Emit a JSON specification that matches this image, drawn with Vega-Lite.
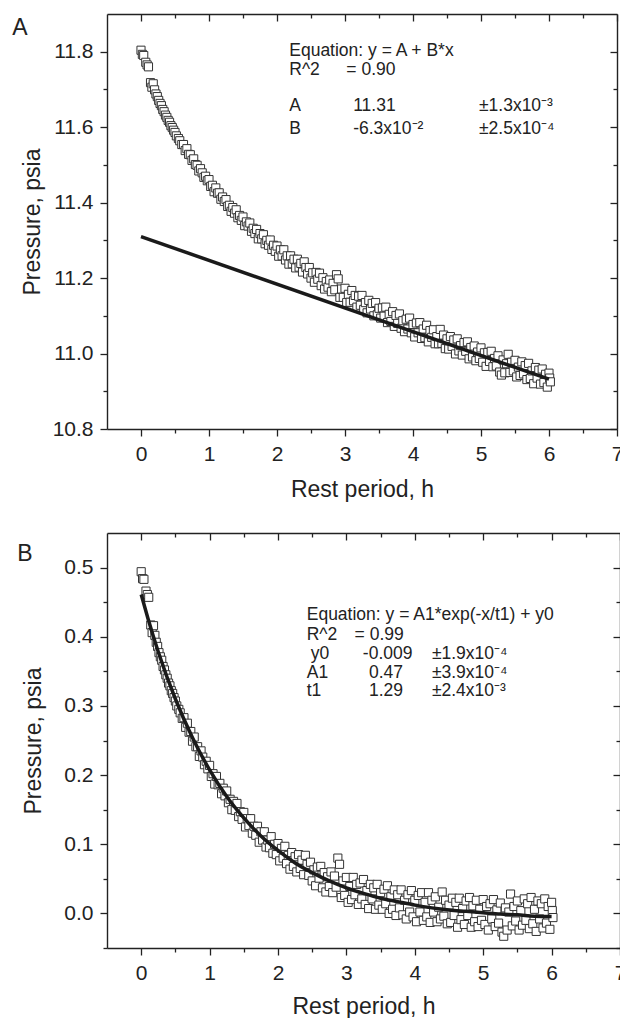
{
  "$schema": "https://vega.github.io/schema/vega-lite/v6.json",
  "padding": {"left": 12, "top": 13, "right": 0, "bottom": 0},
  "background": "white",
  "columns": 1,
  "align": "none",
  "spacing": 31,
  "config": {
    "view": {"stroke": null},
    "axis": {"domainColor": "#222", "domainWidth": 1.4, "tickColor": "#222", "tickWidth": 1.3, "labelFont": "Liberation Sans", "labelFontSize": 21, "labelColor": "#222", "titleFont": "Liberation Sans", "titleFontSize": 23, "titleFontWeight": "normal", "titleColor": "#222", "grid": false, "labelPadding": 7, "titlePadding": 8, "labelOverlap": false, "labelFlush": false}
  },
  "datasets": {
    "pts": [
      {"t":0,"a":11.804,"b":0.494},{"t":0.02,"a":11.793,"b":0.484},{"t":0.04,"a":11.790,"b":0.483},{"t":0.07,"a":11.772,"b":0.466},{"t":0.09,"a":11.765,"b":0.461},{"t":0.11,"a":11.760,"b":0.457},{"t":0.14,"a":11.718,"b":0.417},{"t":0.16,"a":11.706,"b":0.406},{"t":0.18,"a":11.715,"b":0.416},{"t":0.2,"a":11.699,"b":0.402},{"t":0.22,"a":11.688,"b":0.392},{"t":0.24,"a":11.681,"b":0.386},{"t":0.26,"a":11.671,"b":0.377},{"t":0.28,"a":11.663,"b":0.371},{"t":0.3,"a":11.657,"b":0.366},{"t":0.32,"a":11.647,"b":0.357},{"t":0.34,"a":11.641,"b":0.352},{"t":0.36,"a":11.632,"b":0.345},{"t":0.38,"a":11.626,"b":0.340},{"t":0.4,"a":11.618,"b":0.333},{"t":0.42,"a":11.613,"b":0.329},{"t":0.44,"a":11.604,"b":0.322},{"t":0.46,"a":11.599,"b":0.318},{"t":0.48,"a":11.592,"b":0.312},{"t":0.5,"a":11.586,"b":0.307},{"t":0.52,"a":11.577,"b":0.300},{"t":0.55,"a":11.570,"b":0.295},{"t":0.57,"a":11.564,"b":0.290},
      {"t":0.6,"a":11.554,"b":0.282},{"t":0.625,"a":11.554,"b":0.283},{"t":0.65,"a":11.538,"b":0.269},{"t":0.675,"a":11.543,"b":0.275},{"t":0.7,"a":11.528,"b":0.262},{"t":0.725,"a":11.527,"b":0.263},{"t":0.75,"a":11.512,"b":0.249},{"t":0.775,"a":11.516,"b":0.255},{"t":0.8,"a":11.501,"b":0.241},{"t":0.825,"a":11.499,"b":0.241},{"t":0.85,"a":11.484,"b":0.227},{"t":0.875,"a":11.490,"b":0.235},{"t":0.9,"a":11.479,"b":0.226},{"t":0.925,"a":11.467,"b":0.215},{"t":0.95,"a":11.470,"b":0.220},{"t":0.975,"a":11.458,"b":0.209},
      {"t":1.0,"a":11.461,"b":0.214},{"t":1.025,"a":11.443,"b":0.198},{"t":1.05,"a":11.446,"b":0.202},{"t":1.075,"a":11.429,"b":0.187},{"t":1.1,"a":11.439,"b":0.198},{"t":1.125,"a":11.425,"b":0.186},{"t":1.15,"a":11.426,"b":0.188},{"t":1.175,"a":11.409,"b":0.173},{"t":1.2,"a":11.415,"b":0.181},{"t":1.225,"a":11.403,"b":0.170},{"t":1.25,"a":11.408,"b":0.177},{"t":1.275,"a":11.390,"b":0.160},{"t":1.3,"a":11.393,"b":0.165},{"t":1.325,"a":11.377,"b":0.150},{"t":1.35,"a":11.387,"b":0.162},{"t":1.375,"a":11.372,"b":0.149},{"t":1.4,"a":11.381,"b":0.159},{"t":1.425,"a":11.360,"b":0.140},{"t":1.45,"a":11.366,"b":0.147},{"t":1.475,"a":11.353,"b":0.136},{"t":1.5,"a":11.362,"b":0.146},{"t":1.525,"a":11.339,"b":0.125},{"t":1.55,"a":11.349,"b":0.137},{"t":1.575,"a":11.338,"b":0.127},{"t":1.6,"a":11.346,"b":0.137},{"t":1.625,"a":11.324,"b":0.116},{"t":1.65,"a":11.332,"b":0.126},{"t":1.675,"a":11.318,"b":0.113},{"t":1.7,"a":11.329,"b":0.126},{"t":1.725,"a":11.304,"b":0.103},{"t":1.75,"a":11.318,"b":0.118},{"t":1.775,"a":11.304,"b":0.106},{"t":1.8,"a":11.315,"b":0.118},{"t":1.825,"a":11.291,"b":0.096},{"t":1.85,"a":11.300,"b":0.106},{"t":1.875,"a":11.287,"b":0.095},{"t":1.9,"a":11.301,"b":0.111},{"t":1.925,"a":11.276,"b":0.087},{"t":1.95,"a":11.287,"b":0.100},{"t":1.975,"a":11.271,"b":0.085},
      {"t":2.0,"a":11.285,"b":0.101},{"t":2.025,"a":11.258,"b":0.076},{"t":2.05,"a":11.275,"b":0.094},{"t":2.075,"a":11.259,"b":0.080},{"t":2.1,"a":11.275,"b":0.097},{"t":2.125,"a":11.248,"b":0.072},{"t":2.15,"a":11.259,"b":0.084},{"t":2.175,"a":11.237,"b":0.064},{"t":2.2,"a":11.259,"b":0.088},{"t":2.225,"a":11.238,"b":0.068},{"t":2.25,"a":11.250,"b":0.082},{"t":2.275,"a":11.227,"b":0.060},{"t":2.3,"a":11.250,"b":0.085},{"t":2.325,"a":11.229,"b":0.065},{"t":2.35,"a":11.239,"b":0.077},{"t":2.375,"a":11.216,"b":0.056},{"t":2.4,"a":11.243,"b":0.084},{"t":2.425,"a":11.228,"b":0.071},{"t":2.45,"a":11.211,"b":0.055},{"t":2.475,"a":11.228,"b":0.074},{"t":2.5,"a":11.200,"b":0.047},{"t":2.525,"a":11.214,"b":0.063},{"t":2.55,"a":11.189,"b":0.040},{"t":2.575,"a":11.215,"b":0.067},{"t":2.6,"a":11.197,"b":0.051},{"t":2.625,"a":11.213,"b":0.068},{"t":2.65,"a":11.180,"b":0.037},{"t":2.675,"a":11.201,"b":0.059},{"t":2.7,"a":11.171,"b":0.031},{"t":2.725,"a":11.191,"b":0.053},{"t":2.75,"a":11.176,"b":0.039},{"t":2.775,"a":11.195,"b":0.060},{"t":2.8,"a":11.164,"b":0.030},{"t":2.825,"a":11.186,"b":0.054},{"t":2.85,"a":11.169,"b":0.038},{"t":2.875,"a":11.209,"b":0.080},{"t":2.9,"a":11.198,"b":0.071},{"t":2.925,"a":11.149,"b":0.023},{"t":2.95,"a":11.171,"b":0.047},{"t":2.975,"a":11.149,"b":0.026},
      {"t":3.0,"a":11.173,"b":0.052},{"t":3.025,"a":11.135,"b":0.016},{"t":3.05,"a":11.157,"b":0.039},{"t":3.075,"a":11.136,"b":0.020},{"t":3.1,"a":11.167,"b":0.052},{"t":3.125,"a":11.140,"b":0.027},{"t":3.15,"a":11.154,"b":0.042},{"t":3.175,"a":11.123,"b":0.013},{"t":3.2,"a":11.152,"b":0.044},{"t":3.225,"a":11.128,"b":0.021},{"t":3.25,"a":11.154,"b":0.049},{"t":3.275,"a":11.117,"b":0.013},{"t":3.3,"a":11.135,"b":0.033},{"t":3.325,"a":11.108,"b":0.007},{"t":3.35,"a":11.141,"b":0.042},{"t":3.375,"a":11.118,"b":0.021},{"t":3.4,"a":11.133,"b":0.037},{"t":3.425,"a":11.100,"b":0.006},{"t":3.45,"a":11.135,"b":0.042},{"t":3.475,"a":11.103,"b":0.012},{"t":3.5,"a":11.120,"b":0.030},{"t":3.525,"a":11.094,"b":0.006},{"t":3.55,"a":11.121,"b":0.035},{"t":3.575,"a":11.099,"b":0.014},{"t":3.6,"a":11.123,"b":0.040},{"t":3.625,"a":11.082,"b":0.000},{"t":3.65,"a":11.104,"b":0.024},{"t":3.675,"a":11.085,"b":0.006},{"t":3.7,"a":11.111,"b":0.034},{"t":3.725,"a":11.072,"b":-0.003},{"t":3.75,"a":11.101,"b":0.027},{"t":3.775,"a":11.080,"b":0.008},{"t":3.8,"a":11.105,"b":0.034},{"t":3.825,"a":11.067,"b":-0.002},{"t":3.85,"a":11.087,"b":0.019},{"t":3.875,"a":11.058,"b":-0.008},{"t":3.9,"a":11.091,"b":0.027},{"t":3.925,"a":11.065,"b":0.002},{"t":3.95,"a":11.094,"b":0.033},{"t":3.975,"a":11.055,"b":-0.005},
      {"t":4.0,"a":11.077,"b":0.019},{"t":4.025,"a":11.044,"b":-0.012},{"t":4.05,"a":11.081,"b":0.026},{"t":4.075,"a":11.055,"b":0.002},{"t":4.1,"a":11.082,"b":0.030},{"t":4.125,"a":11.040,"b":-0.010},{"t":4.15,"a":11.065,"b":0.016},{"t":4.175,"a":11.042,"b":-0.005},{"t":4.2,"a":11.075,"b":0.030},{"t":4.225,"a":11.031,"b":-0.013},{"t":4.25,"a":11.061,"b":0.019},{"t":4.275,"a":11.043,"b":0.002},{"t":4.3,"a":11.063,"b":0.024},{"t":4.325,"a":11.026,"b":-0.012},{"t":4.35,"a":11.045,"b":0.009},{"t":4.375,"a":11.026,"b":-0.008},{"t":4.4,"a":11.064,"b":0.031},{"t":4.425,"a":11.027,"b":-0.004},{"t":4.45,"a":11.049,"b":0.019},{"t":4.475,"a":11.013,"b":-0.015},{"t":4.5,"a":11.039,"b":0.012},{"t":4.525,"a":11.012,"b":-0.013},{"t":4.55,"a":11.045,"b":0.022},{"t":4.575,"a":11.019,"b":-0.003},{"t":4.6,"a":11.036,"b":0.016},{"t":4.625,"a":10.999,"b":-0.020},{"t":4.65,"a":11.039,"b":0.022},{"t":4.675,"a":11.007,"b":-0.009},{"t":4.7,"a":11.021,"b":0.007},{"t":4.725,"a":10.996,"b":-0.016},{"t":4.75,"a":11.029,"b":0.018},{"t":4.775,"a":11.006,"b":-0.003},{"t":4.8,"a":11.031,"b":0.023},{"t":4.825,"a":10.986,"b":-0.020},{"t":4.85,"a":11.016,"b":0.011},{"t":4.875,"a":10.991,"b":-0.012},{"t":4.9,"a":11.020,"b":0.019},{"t":4.925,"a":10.981,"b":-0.019},{"t":4.95,"a":11.004,"b":0.006},{"t":4.975,"a":10.987,"b":-0.010},
      {"t":5.0,"a":11.015,"b":0.020},{"t":5.025,"a":10.977,"b":-0.016},{"t":5.05,"a":11.002,"b":0.010},{"t":5.075,"a":10.966,"b":-0.024},{"t":5.1,"a":11.003,"b":0.014},{"t":5.125,"a":10.979,"b":-0.008},{"t":5.15,"a":11.006,"b":0.020},{"t":5.175,"a":10.965,"b":-0.019},{"t":5.2,"a":10.987,"b":0.005},{"t":5.225,"a":10.967,"b":-0.014},{"t":5.25,"a":10.994,"b":0.015},{"t":5.275,"a":10.951,"b":-0.027},{"t":5.3,"a":10.943,"b":-0.033},{"t":5.325,"a":10.983,"b":0.008},{"t":5.35,"a":10.949,"b":-0.024},{"t":5.375,"a":10.973,"b":0.002},{"t":5.4,"a":10.998,"b":0.028},{"t":5.425,"a":10.950,"b":-0.018},{"t":5.45,"a":10.977,"b":0.010},{"t":5.475,"a":10.954,"b":-0.011},{"t":5.5,"a":10.982,"b":0.018},{"t":5.525,"a":10.938,"b":-0.024},{"t":5.55,"a":10.964,"b":0.004},{"t":5.575,"a":10.942,"b":-0.017},{"t":5.6,"a":10.978,"b":0.021},{"t":5.625,"a":10.946,"b":-0.010},{"t":5.65,"a":10.968,"b":0.014},{"t":5.675,"a":10.931,"b":-0.022},{"t":5.7,"a":10.974,"b":0.023},{"t":5.725,"a":10.934,"b":-0.015},{"t":5.75,"a":10.954,"b":0.006},{"t":5.775,"a":10.920,"b":-0.026},{"t":5.8,"a":10.963,"b":0.018},{"t":5.825,"a":10.935,"b":-0.008},{"t":5.85,"a":10.956,"b":0.014},{"t":5.875,"a":10.919,"b":-0.021},{"t":5.9,"a":10.959,"b":0.021},{"t":5.925,"a":10.923,"b":-0.014},{"t":5.95,"a":10.945,"b":0.010},{"t":5.975,"a":10.911,"b":-0.023},{"t":6.0,"a":10.948,"b":0.016},{"t":6.01,"a":10.935,"b":0.004},{"t":6.02,"a":10.925,"b":-0.006}
    ],
    "fitA": [{"t":0,"p":11.31},{"t":6,"p":10.932}],
    "fitB": [{"t":0,"p":0.461},{"t":0.1,"p":0.426},{"t":0.25,"p":0.378},{"t":0.5,"p":0.310},{"t":0.75,"p":0.254},{"t":1,"p":0.2075},{"t":1.25,"p":0.169},{"t":1.5,"p":0.138},{"t":1.75,"p":0.112},{"t":2,"p":0.091},{"t":2.25,"p":0.073},{"t":2.5,"p":0.059},{"t":2.75,"p":0.047},{"t":3,"p":0.037},{"t":3.25,"p":0.029},{"t":3.5,"p":0.022},{"t":3.75,"p":0.017},{"t":4,"p":0.012},{"t":4.25,"p":0.008},{"t":4.5,"p":0.005},{"t":4.75,"p":0.003},{"t":5,"p":0.001},{"t":5.25,"p":-0.001},{"t":5.5,"p":-0.002},{"t":5.75,"p":-0.004},{"t":6,"p":-0.0045}],
    "txtA": [
      {"t":2.18,"p":11.802,"label":"Equation: y = A + B*x"},
      {"t":2.18,"p":11.751,"label":"R^2"},
      {"t":3.02,"p":11.751,"label":"=  0.90"},
      {"t":2.18,"p":11.655,"label":"A"},
      {"t":3.12,"p":11.655,"label":"11.31"},
      {"t":4.97,"p":11.655,"label":"±1.3x10⁻³"},
      {"t":2.18,"p":11.595,"label":"B"},
      {"t":3.12,"p":11.595,"label":"-6.3x10⁻²"},
      {"t":4.97,"p":11.595,"label":"±2.5x10⁻⁴"}
    ],
    "lblA": [{"t":-1.893,"p":11.844,"label":"A"}],
    "txtB": [
      {"t":2.42,"p":0.432,"label":"Equation: y = A1*exp(-x/t1) + y0"},
      {"t":2.42,"p":0.403,"label":"R^2"},
      {"t":3.12,"p":0.403,"label":"=  0.99"},
      {"t":2.48,"p":0.375,"label":"y0"},
      {"t":3.24,"p":0.375,"label":"-0.009"},
      {"t":4.25,"p":0.375,"label":"±1.9x10⁻⁴"},
      {"t":2.42,"p":0.348,"label":"A1"},
      {"t":3.33,"p":0.348,"label":"0.47"},
      {"t":4.25,"p":0.348,"label":"±3.9x10⁻⁴"},
      {"t":2.42,"p":0.321,"label":"t1"},
      {"t":3.33,"p":0.321,"label":"1.29"},
      {"t":4.25,"p":0.321,"label":"±2.4x10⁻³"}
    ],
    "lblB": [{"t":-1.811,"p":0.510,"label":"B"}]
  },
  "concat": [
    {
      "width": 510, "height": 415,
      "layer": [
        {
          "data": {"name": "pts"},
          "mark": {"type": "point", "shape": "square", "size": 66, "filled": true, "fill": "white", "fillOpacity": 1, "stroke": "#333", "strokeWidth": 1, "opacity": 1},
          "encoding": {
            "x": {"field": "t", "type": "quantitative", "scale": {"domain": [-0.5, 7], "nice": false, "zero": false},
              "axis": {"orient": "bottom", "title": "Rest period, h", "titlePadding": 14, "values": [0,0.5,1,1.5,2,2.5,3,3.5,4,4.5,5,5.5,6,6.5,7], "format": "~g", "labelExpr": "datum.value % 1 === 0 ? datum.label : ''", "tickSize": {"condition": {"test": "datum.value % 1 === 0", "value": 7}, "value": 4}}},
            "y": {"field": "a", "type": "quantitative", "scale": {"domain": [10.8, 11.9], "nice": false, "zero": false},
              "axis": {"orient": "left", "title": "Pressure, psia", "values": [10.8,10.9,11.0,11.1,11.2,11.3,11.4,11.5,11.6,11.7,11.8], "format": ".1f", "labelExpr": "abs(datum.value*5 - round(datum.value*5)) < 0.01 ? datum.label : ''", "tickSize": {"condition": {"test": "abs(datum.value*5 - round(datum.value*5)) < 0.01", "value": 7}, "value": 4}}}
          }
        },
        {
          "data": {"name": "fitA"},
          "mark": {"type": "line", "stroke": "#1a1a1a", "strokeWidth": 3.5},
          "encoding": {
            "x": {"field": "t", "type": "quantitative", "scale": {"domain": [-0.5, 7], "nice": false, "zero": false},
              "axis": {"orient": "top", "title": null, "labels": false, "values": [0,0.5,1,1.5,2,2.5,3,3.5,4,4.5,5,5.5,6,6.5,7], "tickSize": {"condition": {"test": "datum.value % 1 === 0", "value": -7}, "value": -4}}},
            "y": {"field": "p", "type": "quantitative", "scale": {"domain": [10.8, 11.9], "nice": false, "zero": false},
              "axis": {"orient": "right", "title": null, "labels": false, "values": [10.8,10.9,11.0,11.1,11.2,11.3,11.4,11.5,11.6,11.7,11.8], "tickSize": {"condition": {"test": "abs(datum.value*5 - round(datum.value*5)) < 0.01", "value": -7}, "value": -4}}}
          }
        },
        {
          "data": {"name": "txtA"},
          "mark": {"type": "text", "align": "left", "baseline": "middle", "fontSize": 17.5, "font": "Liberation Sans", "color": "#222"},
          "encoding": {
            "x": {"field": "t", "type": "quantitative", "scale": {"domain": [-0.5, 7], "nice": false, "zero": false}, "axis": null},
            "y": {"field": "p", "type": "quantitative", "scale": {"domain": [10.8, 11.9], "nice": false, "zero": false}, "axis": null},
            "text": {"field": "label"}
          }
        },
        {
          "data": {"name": "lblA"},
          "mark": {"type": "text", "align": "left", "baseline": "alphabetic", "fontSize": 23, "font": "Liberation Sans", "color": "#222"},
          "encoding": {
            "x": {"field": "t", "type": "quantitative", "scale": {"domain": [-0.5, 7], "nice": false, "zero": false}, "axis": null},
            "y": {"field": "p", "type": "quantitative", "scale": {"domain": [10.8, 11.9], "nice": false, "zero": false}, "axis": null},
            "text": {"field": "label"}
          }
        }
      ],
      "resolve": {"axis": {"x": "independent", "y": "independent"}}
    },
    {
      "width": 513, "height": 415,
      "layer": [
        {
          "data": {"name": "pts"},
          "mark": {"type": "point", "shape": "square", "size": 66, "filled": true, "fill": "white", "fillOpacity": 1, "stroke": "#333", "strokeWidth": 1, "opacity": 1},
          "encoding": {
            "x": {"field": "t", "type": "quantitative", "scale": {"domain": [-0.5, 7], "nice": false, "zero": false},
              "axis": {"orient": "bottom", "title": "Rest period, h", "titlePadding": 12, "values": [0,0.5,1,1.5,2,2.5,3,3.5,4,4.5,5,5.5,6,6.5,7], "format": "~g", "labelExpr": "datum.value % 1 === 0 ? datum.label : ''", "tickSize": {"condition": {"test": "datum.value % 1 === 0", "value": 7}, "value": 4}}},
            "y": {"field": "b", "type": "quantitative", "scale": {"domain": [-0.05, 0.55], "nice": false, "zero": false},
              "axis": {"orient": "left", "title": "Pressure, psia", "titlePadding": 18, "values": [-0.05,0,0.05,0.1,0.15,0.2,0.25,0.3,0.35,0.4,0.45,0.5], "format": ".1f", "labelExpr": "abs(datum.value*10 - round(datum.value*10)) < 0.01 ? datum.label : ''", "tickSize": {"condition": {"test": "abs(datum.value*10 - round(datum.value*10)) < 0.01", "value": 7}, "value": 4}}}
          }
        },
        {
          "data": {"name": "fitB"},
          "mark": {"type": "line", "stroke": "#1a1a1a", "strokeWidth": 3.5, "interpolate": "monotone"},
          "encoding": {
            "x": {"field": "t", "type": "quantitative", "scale": {"domain": [-0.5, 7], "nice": false, "zero": false},
              "axis": {"orient": "top", "title": null, "labels": false, "values": [0,0.5,1,1.5,2,2.5,3,3.5,4,4.5,5,5.5,6,6.5,7], "tickSize": {"condition": {"test": "datum.value % 1 === 0", "value": -7}, "value": -4}}},
            "y": {"field": "p", "type": "quantitative", "scale": {"domain": [-0.05, 0.55], "nice": false, "zero": false},
              "axis": {"orient": "right", "title": null, "labels": false, "values": [-0.05,0,0.05,0.1,0.15,0.2,0.25,0.3,0.35,0.4,0.45,0.5], "tickSize": {"condition": {"test": "abs(datum.value*10 - round(datum.value*10)) < 0.01", "value": -7}, "value": -4}}}
          }
        },
        {
          "data": {"name": "txtB"},
          "mark": {"type": "text", "align": "left", "baseline": "middle", "fontSize": 17.5, "font": "Liberation Sans", "color": "#222"},
          "encoding": {
            "x": {"field": "t", "type": "quantitative", "scale": {"domain": [-0.5, 7], "nice": false, "zero": false}, "axis": null},
            "y": {"field": "p", "type": "quantitative", "scale": {"domain": [-0.05, 0.55], "nice": false, "zero": false}, "axis": null},
            "text": {"field": "label"}
          }
        },
        {
          "data": {"name": "lblB"},
          "mark": {"type": "text", "align": "left", "baseline": "alphabetic", "fontSize": 23, "font": "Liberation Sans", "color": "#222"},
          "encoding": {
            "x": {"field": "t", "type": "quantitative", "scale": {"domain": [-0.5, 7], "nice": false, "zero": false}, "axis": null},
            "y": {"field": "p", "type": "quantitative", "scale": {"domain": [-0.05, 0.55], "nice": false, "zero": false}, "axis": null},
            "text": {"field": "label"}
          }
        }
      ],
      "resolve": {"axis": {"x": "independent", "y": "independent"}}
    }
  ]
}
